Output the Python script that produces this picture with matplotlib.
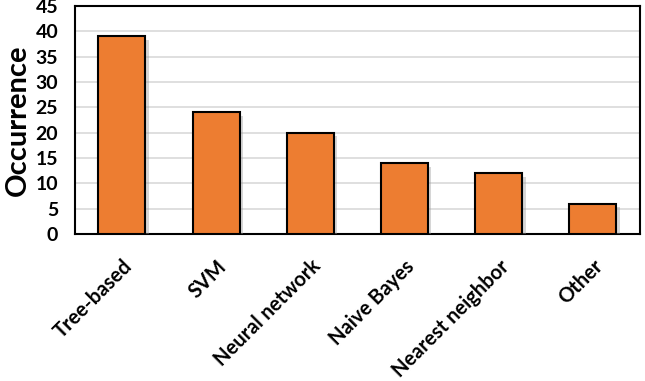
import matplotlib.pyplot as plt
import matplotlib.patheffects as pe

# Data
categories = ["Tree-based", "SVM", "Neural network", "Naive Bayes", "Nearest neighbor", "Other"]
occurrence = [39, 24, 20, 14, 12, 6]
yticks = [0, 5, 10, 15, 20, 25, 30, 35, 40, 45]

plt.rcParams['font.family'] = ['Lato', 'DejaVu Sans']

fig = plt.figure(figsize=(6.45, 3.81), dpi=100)
ax = fig.add_axes([0.116, 0.386, 0.876, 0.598])

x = range(len(categories))
bars = ax.bar(x, occurrence, width=0.5, color='#ED7D31', edgecolor='black',
              linewidth=1.5, zorder=3)
for b in bars:
    b.set_path_effects([pe.SimplePatchShadow(offset=(2.5, -2.5), shadow_rgbFace='#999999', alpha=0.4),
                        pe.Normal()])

ax.set_xlim(-0.5, len(categories) - 0.5)
ax.set_ylim(0, 45)
ax.set_yticks(yticks)
ax.yaxis.grid(True, color='#D9D9D9', linewidth=1.2, zorder=0)
ax.set_axisbelow(True)

ax.set_xticks(list(x))
ax.set_xticklabels(categories, rotation=45, ha='right', rotation_mode='anchor',
                   fontsize=14.5, fontweight='bold')
for lbl in ax.get_yticklabels():
    lbl.set_fontsize(14)
    lbl.set_fontweight('bold')
ax.tick_params(axis='both', length=0)
ax.tick_params(axis='y', pad=12)
ax.tick_params(axis='x', pad=16)

for s in ax.spines.values():
    s.set_linewidth(1.5)
    s.set_color('black')

ax.set_ylabel("Occurrence", fontsize=21, fontweight='bold', labelpad=3)

fig.savefig("out.png", dpi=100)
